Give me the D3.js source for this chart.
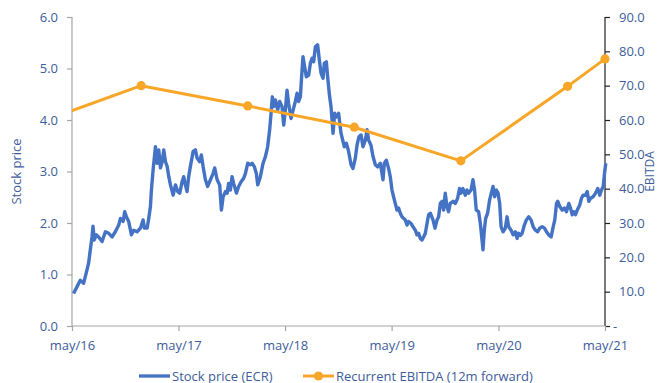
<!DOCTYPE html>
<html>
<head>
<meta charset="utf-8">
<script src="https://cdn.jsdelivr.net/npm/d3@7"></script>
<style>
  html, body { margin: 0; padding: 0; background: #fff; }
  svg { display: block; font-family: "Open Sans", "Noto Sans", sans-serif; }
</style>
</head>
<body>
<svg id="chart" width="659" height="383"></svg>
<script>
// ---- Data (decimal years) ----
const priceTimes = [
  2016.345,2016.377,2016.408,2016.439,2016.455,2016.471,2016.486,2016.502,2016.518,2016.527,
  2016.539,2016.558,2016.580,2016.612,2016.643,2016.674,2016.706,2016.736,2016.768,2016.784,
  2016.809,2016.824,2016.840,2016.861,2016.887,2016.908,2016.940,2016.971,2016.996,2017.009,
  2017.034,2017.049,2017.065,2017.074,2017.090,2017.112,2017.128,2017.143,2017.159,
  2017.175,2017.190,2017.206,2017.222,2017.237,2017.253,2017.278,2017.300,2017.321,2017.340,
  2017.362,2017.377,2017.393,2017.409,2017.424,2017.440,2017.466,2017.487,2017.503,2017.527,
  2017.543,2017.559,2017.581,2017.602,2017.628,2017.653,2017.668,2017.691,2017.715,2017.731,
  2017.747,2017.769,2017.785,2017.799,2017.815,2017.831,2017.846,2017.872,2017.893,2017.916,
  2017.940,2017.956,2017.978,2018.003,
  2018.019,2018.041,2018.059,2018.072,2018.097,2018.122,2018.144,2018.165,2018.184,2018.197,
  2018.209,2018.222,2018.238,2018.259,2018.278,2018.300,2018.316,2018.331,2018.347,2018.362,
  2018.385,2018.404,2018.425,2018.441,2018.456,2018.472,2018.488,2018.497,2018.512,2018.528,
  2018.550,2018.566,2018.582,2018.597,2018.613,2018.634,2018.650,2018.666,2018.685,2018.697,
  2018.716,2018.728,2018.747,2018.760,2018.779,2018.794,2018.810,2018.831,2018.854,
  2018.885,2018.904,2018.925,2018.948,2018.966,2018.988,2019.004,2019.023,2019.042,2019.060,
  2019.082,2019.098,2019.113,2019.135,2019.154,2019.176,2019.197,2019.223,2019.248,2019.260,
  2019.279,2019.300,2019.316,2019.332,2019.347,2019.363,2019.379,2019.394,2019.410,2019.426,
  2019.441,2019.457,2019.473,2019.488,2019.511,2019.529,2019.551,2019.567,2019.582,2019.598,
  2019.614,2019.629,2019.645,2019.661,2019.676,
  2019.692,2019.717,2019.736,2019.755,2019.770,2019.786,2019.802,2019.817,2019.832,2019.848,
  2019.863,2019.879,2019.905,2019.926,2019.948,2019.966,2019.980,2019.998,2020.020,2020.036,
  2020.051,2020.074,2020.092,2020.107,2020.123,2020.145,2020.161,2020.177,2020.186,2020.198,
  2020.211,2020.229,2020.248,2020.264,2020.280,2020.295,2020.311,2020.327,2020.342,2020.355,
  2020.374,2020.395,2020.411,2020.426,2020.449,2020.468,2020.489,2020.505,2020.520,
  2020.536,2020.552,2020.573,2020.592,2020.614,2020.636,2020.655,2020.677,2020.698,2020.717,
  2020.739,2020.761,2020.780,2020.801,2020.824,2020.843,2020.858,2020.874,2020.886,2020.905,
  2020.927,2020.949,2020.967,2020.989,2021.005,2021.021,2021.036,2021.052,2021.068,2021.092,
  2021.108,2021.124,2021.146,2021.162,2021.177,2021.193,2021.217,2021.240,2021.261,2021.280,
  2021.296,2021.312,2021.324,2021.336
];
const priceValues = [
  0.63,0.76,0.89,0.83,0.96,1.09,1.22,1.48,1.73,1.94,
  1.67,1.77,1.73,1.64,1.83,1.80,1.73,1.83,1.96,2.09,
  2.03,2.22,2.12,2.03,1.77,1.86,1.83,1.90,2.06,1.90,
  1.90,2.09,2.32,2.64,3.03,3.48,3.16,3.42,3.07,
  3.19,3.42,3.19,3.10,2.90,2.74,2.54,2.74,2.61,2.58,
  2.80,2.90,2.74,2.61,2.90,3.10,3.39,3.42,3.26,3.19,
  3.32,3.10,2.84,2.71,2.84,2.96,3.07,2.84,2.74,2.25,
  2.51,2.61,2.58,2.77,2.64,2.90,2.77,2.58,2.71,2.80,
  2.87,2.96,3.16,3.13,
  3.16,3.09,2.96,2.74,2.90,3.16,3.29,3.48,3.81,4.13,
  4.45,4.26,4.39,4.19,4.36,4.26,3.90,4.19,4.58,4.32,
  4.03,4.19,4.36,4.52,4.36,4.45,4.97,5.23,5.04,4.84,
  4.87,5.10,5.20,5.13,5.42,5.46,5.17,4.91,4.81,5.10,
  5.13,4.84,4.45,4.26,3.74,4.13,4.06,4.13,3.74,
  3.48,3.55,3.39,3.13,3.06,3.26,3.51,3.68,3.71,3.48,
  3.61,3.81,3.61,3.51,3.29,3.13,3.09,3.16,2.84,3.16,
  3.22,3.06,2.90,2.64,2.51,2.38,2.25,2.29,2.19,2.12,
  2.09,2.06,1.96,2.03,1.99,1.93,1.86,1.77,1.80,1.70,
  1.67,1.73,1.80,1.99,2.16,
  2.19,2.06,1.90,2.06,2.12,2.38,2.42,2.25,2.58,2.32,
  2.22,2.38,2.42,2.38,2.48,2.67,2.58,2.67,2.54,2.64,
  2.58,2.64,2.84,2.64,2.25,2.22,1.99,1.67,1.48,1.86,
  2.09,2.19,2.45,2.58,2.71,2.51,2.64,2.58,2.38,1.93,
  1.83,1.90,2.12,1.93,1.86,1.77,1.83,1.70,1.80,
  1.76,1.80,1.96,2.06,2.12,2.06,1.93,1.86,1.83,1.90,
  1.93,1.90,1.83,1.77,1.73,1.93,2.06,2.38,2.42,2.32,
  2.25,2.29,2.22,2.38,2.29,2.16,2.22,2.16,2.25,2.35,
  2.48,2.54,2.54,2.61,2.42,2.48,2.51,2.58,2.67,2.54,
  2.64,2.71,2.96,3.16
];
const ebitdaDates = ["2015-12-24","2016-12-24","2017-12-24","2018-12-24","2019-12-24","2020-12-24","2021-05-01"];
const ebitdaValues = [58.8, 70.0, 64.1, 57.9, 48.1, 69.8, 77.8];
const xTickDates = ["2016-05-01","2017-05-01","2018-05-01","2019-05-01","2020-05-01","2021-05-01"];
const leftTicks = [0,1,2,3,4,5,6];
const rightTicks = [0,10,20,30,40,50,60,70,80,90];
const seriesNames = ["Stock price (ECR)", "Recurrent EBITDA (12m forward)"];
const axisTitles = ["Stock price", "EBITDA"];

// ---- helpers ----
function fromDec(t) {
  const y = Math.floor(t);
  const a = new Date(y, 0, 1), b = new Date(y + 1, 0, 1);
  return new Date(+a + (t - y) * (b - a));
}
function parseD(s) { const p = s.split("-").map(Number); return new Date(p[0], p[1] - 1, p[2]); }

const BLUE = "#4472C4", ORANGE = "#F8A628", TXT = "#3E5C9A";
const m = { left: 72, right: 605, top: 17, bottom: 326 };

const svg = d3.select("#chart");
const x = d3.scaleTime().domain([parseD("2016-05-01"), parseD("2021-05-01")]).range([m.left, m.right]);
const yL = d3.scaleLinear().domain([0, 6]).range([m.bottom, m.top]);
const yR = d3.scaleLinear().domain([0, 90]).range([m.bottom, m.top]);

svg.append("defs").append("clipPath").attr("id", "clip")
  .append("rect").attr("x", m.left).attr("y", 0).attr("width", 659 - m.left).attr("height", 383);

// axes
const gL = svg.append("g").attr("transform", `translate(${m.left},0)`)
  .call(d3.axisLeft(yL).tickValues(leftTicks).tickFormat(d3.format(".1f")).tickSize(5).tickPadding(9));
const gR = svg.append("g").attr("transform", `translate(${m.right},0)`)
  .call(d3.axisRight(yR).tickValues(rightTicks).tickFormat(d => d === 0 ? "-" : d.toFixed(1)).tickSize(5).tickPadding(9));
const gB = svg.append("g").attr("transform", `translate(0,${m.bottom})`)
  .call(d3.axisBottom(x).tickValues(xTickDates.map(parseD)).tickFormat(d => d3.timeFormat("%b/%y")(d).toLowerCase()).tickSize(5).tickPadding(10));

[gL, gB].forEach(g => {
  g.select(".domain").attr("stroke", "#A6A6A6").attr("stroke-width", 1.2);
  g.selectAll(".tick line").attr("stroke", "#A6A6A6").attr("stroke-width", 1.2);
});
gR.select(".domain").attr("stroke", "#222").attr("stroke-width", 1.2);
gR.selectAll(".tick line").attr("stroke", "#222").attr("stroke-width", 1.2);
[gL, gR, gB].forEach(g => g.selectAll(".tick text").attr("fill", TXT).attr("font-size", 13).attr("font-family", '"Open Sans", sans-serif'));
gR.selectAll(".tick text").filter(d => d === 0).attr("dx", -6);
gL.select(".domain").attr("d", `M0,${m.top}V${m.bottom}`);
gR.select(".domain").attr("d", `M0,${m.top}V${m.bottom}`);
gB.select(".domain").attr("d", `M${m.left},0H${m.right}`);

// axis titles
svg.append("text").attr("transform", `translate(21,${(m.top + m.bottom) / 2}) rotate(-90)`)
  .attr("text-anchor", "middle").attr("fill", TXT).attr("font-size", 13).text(axisTitles[0]);
svg.append("text").attr("transform", `translate(654,${(m.top + m.bottom) / 2}) rotate(-90)`)
  .attr("text-anchor", "middle").attr("fill", TXT).attr("font-size", 12).text(axisTitles[1]);

// stock price line
const priceData = priceTimes.map((t, i) => ({ d: fromDec(t), v: priceValues[i] }));
svg.append("path").datum(priceData)
  .attr("fill", "none").attr("stroke", BLUE).attr("stroke-width", 3.4).attr("stroke-linejoin", "round")
  .attr("d", d3.line().x(d => x(d.d)).y(d => yL(d.v)));

// EBITDA line
const ebitdaData = ebitdaDates.map((s, i) => ({ d: parseD(s), v: ebitdaValues[i] }));
const ge = svg.append("g").attr("clip-path", "url(#clip)");
ge.append("path").datum(ebitdaData)
  .attr("fill", "none").attr("stroke", ORANGE).attr("stroke-width", 3).attr("stroke-linejoin", "round")
  .attr("d", d3.line().x(d => x(d.d)).y(d => yR(d.v)));
ge.selectAll("circle").data(ebitdaData).enter().append("circle")
  .attr("cx", d => x(d.d)).attr("cy", d => yR(d.v)).attr("r", 4.6).attr("fill", ORANGE);

// legend
const lg = svg.append("g").attr("font-size", 13).attr("fill", TXT);
lg.append("line").attr("x1", 139).attr("x2", 170).attr("y1", 376).attr("y2", 376).attr("stroke", BLUE).attr("stroke-width", 3.3);
lg.append("text").attr("x", 172).attr("y", 380.5).text(seriesNames[0]);
lg.append("line").attr("x1", 303).attr("x2", 334).attr("y1", 376).attr("y2", 376).attr("stroke", ORANGE).attr("stroke-width", 3);
lg.append("circle").attr("cx", 318.5).attr("cy", 376).attr("r", 4.6).attr("fill", ORANGE);
lg.append("text").attr("x", 336).attr("y", 380.5).text(seriesNames[1]);
</script>
</body>
</html>
